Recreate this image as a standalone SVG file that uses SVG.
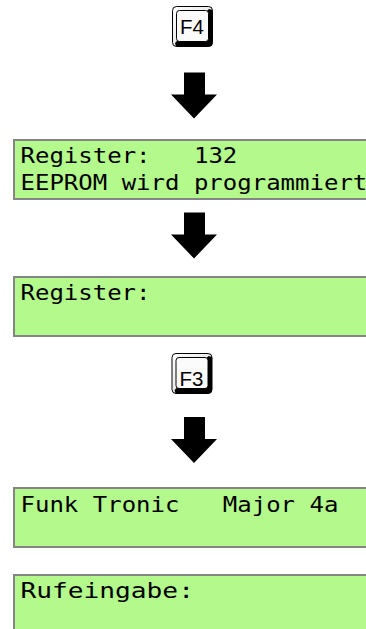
<svg xmlns="http://www.w3.org/2000/svg" xmlns:xlink="http://www.w3.org/1999/xlink" width="366" height="629" viewBox="0 0 366 629">
<style>
.lcd{fill:#b4f98c;stroke:#858585;stroke-width:2}
.mono{font-family:"DejaVu Sans Mono",monospace;font-size:21px;fill:#000}
.keylbl{font-family:"Liberation Sans",Arial,sans-serif;font-size:20.5px;fill:#000;text-anchor:middle}
.arrow{fill:#000}
</style>
<defs>
<linearGradient id="kg" x1="0" y1="0" x2="1" y2="1">
<stop offset="0" stop-color="#ffffff"/>
<stop offset="1" stop-color="#d8d8d8"/>
</linearGradient>
<g id="key">
<rect x="0.5" y="0.5" width="40" height="40" rx="4" fill="url(#kg)" stroke="#000" stroke-width="1"/>
<path d="M37 3 L40.5 4 L40.5 37 Q40.5 40.5 37 40.5 L4 40.5 L3 37 Z" fill="#000"/>
<rect x="4.5" y="4.5" width="32" height="31" rx="3" fill="#fbfbfb" stroke="#000" stroke-width="1"/>
</g>
<path id="arr" d="M184 0 L205 0 L205 22 L217 22 L194 46 L171 22 L184 22 Z"/>
</defs>

<g id="connectors" class="arrow">
<use xlink:href="#arr" href="#arr" transform="translate(0,72.5)"/>
<use xlink:href="#arr" href="#arr" transform="translate(0,212.5)"/>
<use xlink:href="#arr" href="#arr" transform="translate(0,417)"/>
</g>

<g id="key-f4">
<use xlink:href="#key" href="#key" transform="translate(172,6)"/>
<text class="keylbl" x="192" y="33.5">F4</text>
</g>

<g id="lcd-1">
<rect class="lcd" x="14" y="140" width="360" height="59"/>
<text class="mono" x="20.5" y="162.5" textLength="216.8" lengthAdjust="spacingAndGlyphs" xml:space="preserve">Register:   132</text>
<text class="mono" x="20.5" y="190" textLength="346.8" lengthAdjust="spacingAndGlyphs">EEPROM wird programmiert</text>
</g>

<g id="lcd-2">
<rect class="lcd" x="14" y="277" width="360" height="59"/>
<text class="mono" x="20.5" y="299.5" textLength="130" lengthAdjust="spacingAndGlyphs">Register:</text>
</g>

<g id="key-f3">
<use xlink:href="#key" href="#key" transform="translate(171.5,353)"/>
<text class="keylbl" x="191.5" y="385.5">F3</text>
</g>

<g id="lcd-3">
<rect class="lcd" x="14" y="488" width="360" height="59"/>
<text class="mono" x="20.5" y="511.5" textLength="317.9" lengthAdjust="spacingAndGlyphs" xml:space="preserve">Funk Tronic   Major 4a</text>
</g>

<g id="lcd-4">
<rect class="lcd" x="14" y="575" width="360" height="70"/>
<text class="mono" x="20.5" y="598" textLength="173.4" lengthAdjust="spacingAndGlyphs">Rufeingabe:</text>
</g>
</svg>
